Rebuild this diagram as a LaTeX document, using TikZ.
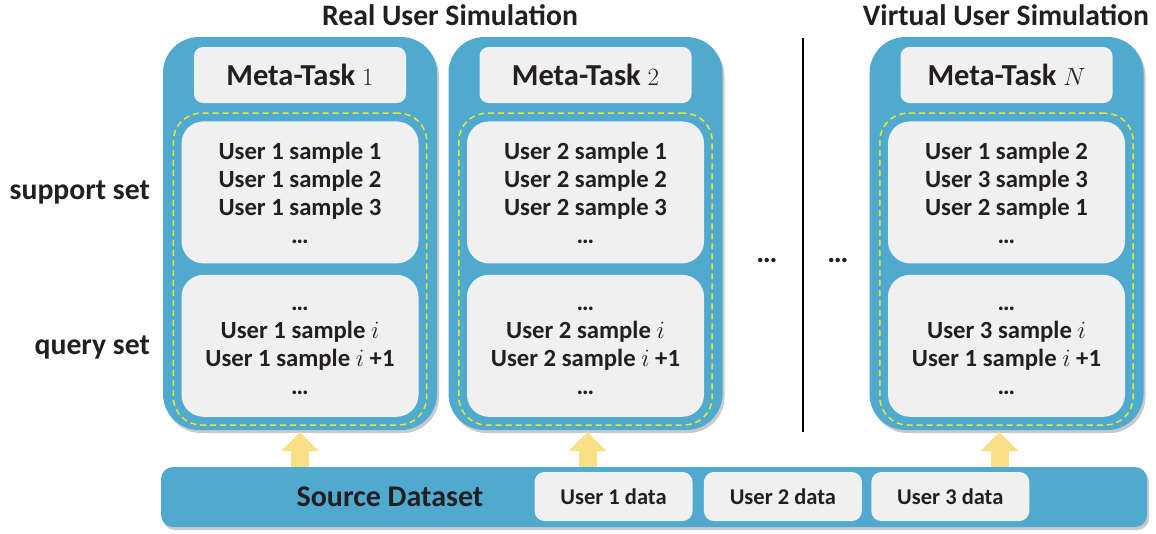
\documentclass[tikz,border=0pt]{standalone}
\usepackage{fontspec}
\setmainfont{Carlito}
\usetikzlibrary{arrows.meta, shadows, fit, positioning}
\definecolor{cardBlue}{RGB}{80,170,207}
\definecolor{boxGray}{RGB}{240,240,240}
\definecolor{arrowYellow}{RGB}{251,223,135}
\definecolor{dashYellow}{RGB}{236,232,40}
\definecolor{textDark}{RGB}{35,31,32}
\tikzset{
    taskCard/.style={rectangle, rounded corners=36pt, fill=cardBlue, minimum width=274pt, minimum height=393pt, inner sep=0pt, drop shadow={shadow xshift=2pt, shadow yshift=-3pt, opacity=0.35, fill=black!60}},
    titleBox/.style={rectangle, rounded corners=9pt, fill=boxGray, minimum width=212pt, minimum height=56pt, inner sep=0pt, font=\fontsize{30.5}{32}\selectfont\bfseries, text=textDark},
    sampleBox/.style={rectangle, rounded corners=22pt, fill=boxGray, minimum width=237pt, minimum height=142pt, inner sep=0pt},
    sampleText/.style={inner sep=0pt, align=center, font=\fontsize{24.7}{28}\selectfont\bfseries, text=textDark},
    setFrame/.style={rectangle, rounded corners=28pt, draw=dashYellow, line width=1.5pt, dash pattern=on 6pt off 4pt, inner sep=8pt},
    sourceBar/.style={rectangle, rounded corners=12pt, fill=cardBlue, minimum width=986pt, minimum height=60pt, inner sep=0pt, drop shadow={shadow xshift=2pt, shadow yshift=-3pt, opacity=0.35, fill=black!60}},
    dataBox/.style={rectangle, rounded corners=10pt, fill=boxGray, minimum width=158pt, minimum height=49pt, inner sep=0pt, font=\fontsize{22.5}{24}\selectfont\bfseries, text=textDark},
    headLabel/.style={inner sep=0pt, font=\fontsize{29.7}{32}\selectfont\bfseries, text=textDark},
    upArrow/.style={draw=arrowYellow, line width=18pt, -{Triangle[width=37pt, length=19pt]}},
    divider/.style={line width=1.5pt, black},
}
\newcommand{\drawMetaTask}[4]{
    \node[taskCard] (#1) at (#2, 233.5) {};
    \node[titleBox, below=10pt of #1.north] (#1t) {Meta-Task #3};
    \node[sampleBox, below=18pt of #1t] (#1s) {};
    \node[sampleText, yshift=-1pt] at (#1s) {#4};
}
\newcommand{\drawQuerySet}[2]{
    \node[sampleBox, below=11pt of #1s] (#1q) {};
    \node[sampleText, yshift=-5pt] at (#1q) {#2};
    \node[setFrame, fit=(#1s) (#1q)] (#1f) {};
}

\begin{document}
\begin{tikzpicture}[x=1pt, y=-1pt]
        \useasboundingbox (0, 0) rectangle (1156, 533);

        \node[headLabel] (realTitle) at (450, 15) {Real User Simulation};
        \node[headLabel] (virtTitle) at (1006, 15) {Virtual User Simulation};

        \drawMetaTask{taskA}{300}{$1$}{User 1 sample 1\\User 1 sample 2\\User 1 sample 3\\…}
        \drawQuerySet{taskA}{…\\User 1 sample $i$\\User 1 sample $i$ +1\\…}
        \drawMetaTask{taskB}{585.5}{$2$}{User 2 sample 1\\User 2 sample 2\\User 2 sample 3\\…}
        \drawQuerySet{taskB}{…\\User 2 sample $i$\\User 2 sample $i$ +1\\…}
        \drawMetaTask{taskN}{1006.5}{$N$}{User 1 sample 2\\User 3 sample 3\\User 2 sample 1\\…}
        \drawQuerySet{taskN}{…\\User 3 sample $i$\\User 1 sample $i$ +1\\…}

        \node[headLabel, anchor=east] (supLabel) at (150, 192) {support set};
        \node[headLabel, anchor=east] (qryLabel) at (150, 347) {query set};

        \node[headLabel, anchor=base] (gapDotsA) at (767, 262) {…};
        \node[headLabel, anchor=base] (gapDotsB) at (838, 262) {…};
        \coordinate (divTop) at (803, 38);
        \coordinate (divBot) at (803, 432);
        \draw[divider] (divTop) -- (divBot);

        \node[sourceBar] (srcBar) at (654, 497) {};
        \node[headLabel, font=\fontsize{30}{32}\selectfont\bfseries] (srcLabel) at (390, 497) {Source Dataset};
        \node[dataBox] (dataA) at (613.5, 496.5) {User 1 data};
        \node[dataBox, right=11pt of dataA] (dataB) {User 2 data};
        \node[dataBox, right=9pt of dataB] (dataC) {User 3 data};

        \draw[upArrow] (taskA.south |- srcBar.north) -- ([yshift=-2pt]taskA.south);
        \draw[upArrow] ([xshift=2pt]taskB.south |- srcBar.north) -- ([xshift=2pt, yshift=-2pt]taskB.south);
        \draw[upArrow] ([xshift=-7pt]taskN.south |- srcBar.north) -- ([xshift=-7pt, yshift=-2pt]taskN.south);

    \end{tikzpicture}
\end{document}
